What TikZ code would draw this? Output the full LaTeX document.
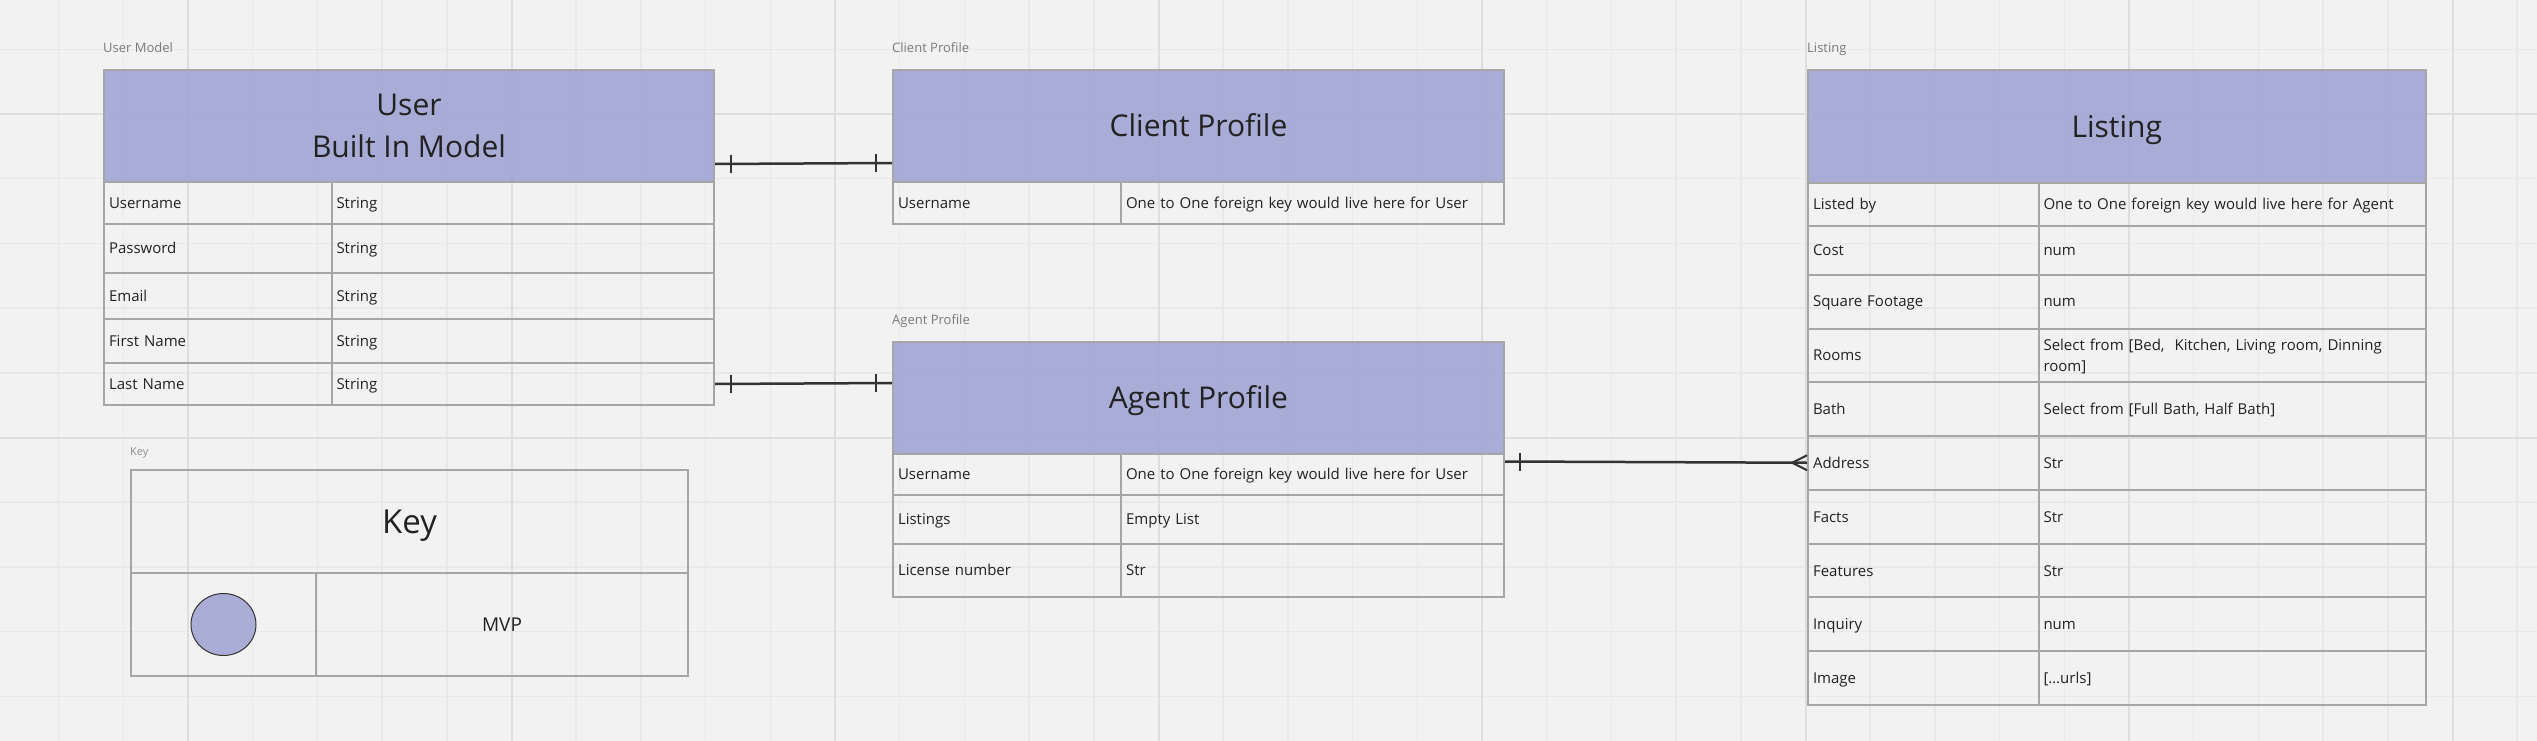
\documentclass[tikz,border=0pt]{standalone}
\usepackage{fontspec}
\setmainfont{Open Sans}
\usetikzlibrary{calc,shapes.geometric}
\definecolor{bgcol}{HTML}{F2F2F2}
\definecolor{gridminor}{HTML}{E9E9E9}
\definecolor{gridmajor}{HTML}{DEDEDE}
\definecolor{hdrcol}{RGB}{162,165,211}
\definecolor{ovalcol}{RGB}{170,174,214}
\definecolor{cellline}{HTML}{A6A6A6}
\definecolor{conncol}{HTML}{333333}
\definecolor{lblcol}{HTML}{7A7A7A}
\definecolor{txtcol}{HTML}{222222}
% \rule[lift]{width}{total height}: top = total - lift
\newcommand{\cellstrut}{\rule[-4.5pt]{0pt}{19.7pt}}
\newcommand{\hdrstrut}{\rule[-8.6pt]{0pt}{38.6pt}}
\tikzset{
  cellbox/.style={draw=cellline, line width=2pt, anchor=north west, inner xsep=5pt, inner ysep=0pt,
    align=left, font=\fontsize{15}{21}\selectfont, text=txtcol},
  hdrbox/.style={draw=cellline, line width=2pt, fill=hdrcol, fill opacity=0.9, text opacity=1,
    anchor=north west, inner sep=0pt, align=center, font=\fontsize{30}{42}\selectfont, text=txtcol},
  keybox/.style={draw=cellline, line width=2pt, anchor=north west, inner sep=0pt, text=txtcol},
  grouplabel/.style={anchor=west, inner sep=0pt, text=lblcol, font=\fontsize{13}{15}\selectfont,
    text height=9.3pt, text depth=0pt},
  conn/.style={draw=conncol, line width=2.5pt},
  tickmark/.style={draw=conncol, line width=2pt},
}
\newcommand{\hdrnode}[6]{%
  \pgfmathsetmacro\myHW{#4-#2}\pgfmathsetmacro\myHH{#5-#3}%
  \node[hdrbox, minimum width=\myHW pt, minimum height=\myHH pt] (#1) at (#2,#3) {\hdrstrut#6\hdrstrut};}
\newcommand{\tabrow}[8]{%
  \pgfmathsetmacro\myRH{#6-#5}\pgfmathsetmacro\myWA{#3-#2}\pgfmathsetmacro\myWB{#4-#3}%
  \pgfmathsetmacro\myTA{#3-#2-10}\pgfmathsetmacro\myTB{#4-#3-10}%
  \node[cellbox, minimum width=\myWA pt, minimum height=\myRH pt, text width=\myTA pt] (#1a) at (#2,#5) {\cellstrut#7\cellstrut};
  \node[cellbox, minimum width=\myWB pt, minimum height=\myRH pt, text width=\myTB pt] (#1b) at (#3,#5) {\cellstrut#8\cellstrut};}
\begin{document}
\begin{tikzpicture}[x=1pt,y=-1pt]
\useasboundingbox (0,0) rectangle (2537,741);
\clip (0,0) rectangle (2537,741);
\fill[bgcol] (0,0) rectangle (2537,741);
% grid
\foreach \k in {0,...,40} {\draw[gridminor, line width=1.5pt] ({-6.1+\k*64.7},0) -- ({-6.1+\k*64.7},741);}
\foreach \k in {0,...,12} {\draw[gridminor, line width=1.5pt] (0,{-15.4+\k*64.7}) -- (2537,{-15.4+\k*64.7});}
\foreach \k in {1,...,8} {\draw[gridmajor, line width=2pt] ({-135.5+\k*323.5},0) -- ({-135.5+\k*323.5},741);}
\foreach \k in {0,1} {\draw[gridmajor, line width=2pt] (0,{114+\k*323.5}) -- (2537,{114+\k*323.5});}

% group labels
\node[grouplabel] (lblUser) at (103,47.5) {User Model};
\node[grouplabel] (lblClient) at (892,47.5) {Client Profile};
\node[grouplabel] (lblAgent) at (892,319.5) {Agent Profile};
\node[grouplabel] (lblListing) at (1807,47.5) {Listing};
\node[grouplabel, font=\fontsize{11}{13}\selectfont, text=black!45, text height=7.9pt] (lblKey) at (130,452) {Key};

% User
\hdrnode{uh}{103}{69}{713}{181}{User\\Built In Model}
\tabrow{ur1}{103}{330.5}{713}{181}{223}{Username}{String}
\tabrow{ur2}{103}{330.5}{713}{223}{272}{Password}{String}
\tabrow{ur3}{103}{330.5}{713}{272}{318}{Email}{String}
\tabrow{ur4}{103}{330.5}{713}{318}{362}{First Name}{String}
\tabrow{ur5}{103}{330.5}{713}{362}{404}{Last Name}{String}

% Client
\hdrnode{ch}{892}{69}{1503}{181}{Client Profile}
\tabrow{cr1}{892}{1120}{1503}{181}{222.5}{Username}{\mbox{One to One foreign key would live here for User}}

% Agent
\hdrnode{ah}{892}{341}{1503}{452.5}{Agent Profile}
\tabrow{ar1}{892}{1120}{1503}{452.5}{494}{Username}{\mbox{One to One foreign key would live here for User}}
\tabrow{ar2}{892}{1120}{1503}{494}{543}{Listings}{Empty List}
\tabrow{ar3}{892}{1120}{1503}{543}{595.5}{License number}{Str}

% Listing
\hdrnode{lh}{1807}{69.5}{2424.5}{182}{Listing}
\tabrow{lr1}{1807}{2037.5}{2424.5}{182}{224.5}{Listed by}{\mbox{One to One foreign key would live here for Agent}}
\tabrow{lr2}{1807}{2037.5}{2424.5}{224.5}{273.6}{Cost}{num}
\tabrow{lr3}{1807}{2037.5}{2424.5}{273.6}{327.5}{Square Footage}{num}
\tabrow{lr4}{1807}{2037.5}{2424.5}{327.5}{381.4}{Rooms}{\mbox{Select from [Bed,~ Kitchen, Living room, Dinning}\\room]}
\tabrow{lr5}{1807}{2037.5}{2424.5}{381.4}{434.8}{Bath}{Select from [Full Bath, Half Bath]}
\tabrow{lr6}{1807}{2037.5}{2424.5}{434.8}{488.7}{Address}{Str}
\tabrow{lr7}{1807}{2037.5}{2424.5}{488.7}{543}{Facts}{Str}
\tabrow{lr8}{1807}{2037.5}{2424.5}{543}{596.4}{Features}{Str}
\tabrow{lr9}{1807}{2037.5}{2424.5}{596.4}{650.3}{Inquiry}{num}
\tabrow{lr10}{1807}{2037.5}{2424.5}{650.3}{703.7}{Image}{[…urls]}

% Key
\node[keybox, minimum width=557pt, minimum height=103.3pt, font=\fontsize{33}{40}\selectfont] (keyhead) at (130,468.7) {\rule[-9pt]{0pt}{41.6pt}Key};
\node[keybox, minimum width=185pt, minimum height=103pt] (keysym) at (130,572) {};
\node[keybox, minimum width=372pt, minimum height=103pt, font=\fontsize{19}{23}\selectfont] (keytext) at (315,572) {MVP};
\node[ellipse, draw=conncol, line width=1pt, fill=ovalcol, minimum width=65pt, minimum height=62pt, inner sep=0pt] (keyoval) at (keysym.center) {};

% connectors
\draw[conn] ($(uh.south east)+(0,-19)$) coordinate (c1s) -- ($(ch.south west)+(0,-20)$) coordinate (c1e);
\draw[tickmark] ($(c1s)!16pt!(c1e)$) ++(0,-9) -- ++(0,18);
\draw[tickmark] ($(c1e)!16pt!(c1s)$) ++(0,-9) -- ++(0,18);

\draw[conn] (ur5b.east) coordinate (c2s) -- ($(ah.north west)+(0,42)$) coordinate (c2e);
\draw[tickmark] ($(c2s)!16pt!(c2e)$) ++(0,-9) -- ++(0,18);
\draw[tickmark] ($(c2e)!16pt!(c2s)$) ++(0,-9) -- ++(0,18);

\draw[conn] ($(ar1b.north east)+(0,9)$) coordinate (c3s) -- (lr6a.west) coordinate (c3e);
\draw[tickmark] ($(c3s)!15pt!(c3e)$) ++(0,-9) -- ++(0,18);
\draw[tickmark] ($(c3e)+(0,-7.5)$) -- ($(c3e)+(-15,0)$) -- ($(c3e)+(0,7.5)$);
\end{tikzpicture}
\end{document}
